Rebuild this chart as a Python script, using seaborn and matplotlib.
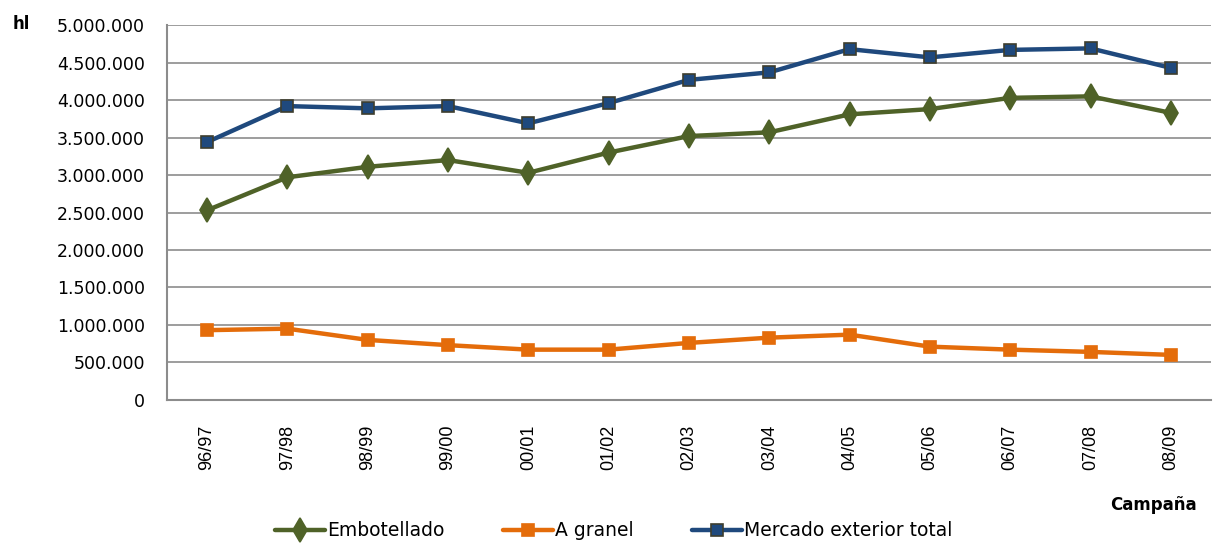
import matplotlib
matplotlib.use("Agg")
import matplotlib.pyplot as plt
import seaborn as sns
import pandas as pd
import numpy as np
from matplotlib.ticker import FuncFormatter, MultipleLocator

campaigns = ["96/97", "97/98", "98/99", "99/00", "00/01", "01/02", "02/03",
             "03/04", "04/05", "05/06", "06/07", "07/08", "08/09"]
embotellado = [2530000, 2970000, 3110000, 3200000, 3030000, 3300000, 3520000,
               3570000, 3810000, 3880000, 4030000, 4050000, 3830000]
a_granel = [930000, 950000, 800000, 730000, 670000, 670000, 760000,
            830000, 870000, 710000, 670000, 640000, 600000]
mercado_total = [3440000, 3920000, 3890000, 3920000, 3690000, 3960000, 4270000,
                 4370000, 4680000, 4570000, 4670000, 4690000, 4430000]
series_names = ["Embotellado", "A granel", "Mercado exterior total"]
colors = ["#4F6228", "#E46C0A", "#1F497D"]

sns.set_theme(style="white")
plt.rcParams['font.family'] = ['DejaVu Sans']
plt.rcParams['text.color'] = 'black'
plt.rcParams['xtick.color'] = 'black'
plt.rcParams['ytick.color'] = 'black'

fig = plt.figure(figsize=(12.15, 5.47), dpi=100)
ax = fig.add_axes([0.1374, 0.269, 0.8593, 0.685])

idx = np.arange(len(campaigns))
data = [embotellado, a_granel, mercado_total]
markers = ["d", "s", "s"]
msizes = [12, 8, 8.5]
edges = ["#4F6228", "#E46C0A", "#3D3D2E"]
handles = []
for name, vals, c, m, ms, ec in zip(series_names, data, colors, markers, msizes, edges):
    df = pd.DataFrame({"x": idx, "y": vals})
    sns.lineplot(data=df, x="x", y="y", ax=ax, color=c, linewidth=3.2,
                 marker=m, markersize=ms, markeredgecolor=ec, markeredgewidth=1.2,
                 label=name, legend=False)
    handles.append(ax.lines[-1])

ax.set_xlim(-0.5, len(campaigns) - 0.5)
ax.set_ylim(0, 5000000)
ax.yaxis.set_major_locator(MultipleLocator(500000))
ax.yaxis.set_major_formatter(FuncFormatter(lambda v, p: f"{int(v):,}".replace(",", ".")))
ax.set_xticks(idx)
ax.set_xticklabels(campaigns, rotation=90, fontsize=13, family="Liberation Sans")
ax.tick_params(axis="y", labelsize=12.5, length=0, pad=16)
ax.tick_params(axis="x", length=0, pad=18)
ax.grid(axis="y", color="#8C8C8C", linewidth=1.2)
ax.set_axisbelow(True)
for s in ["top", "right"]:
    ax.spines[s].set_visible(False)
for s in ["left", "bottom"]:
    ax.spines[s].set_color("#8C8C8C")
    ax.spines[s].set_linewidth(1.5)
ax.set_xlabel("")
ax.set_ylabel("")

fig.text(0.010, 0.957, "hl", fontsize=12, fontweight="bold", ha="left", va="center")
fig.text(0.985, 0.077, "Campaña", fontsize=12, fontweight="bold", ha="right", va="center")

fig.legend(handles=handles, labels=series_names, loc="center", ncol=3,
           bbox_to_anchor=(0.505, 0.03), frameon=False, fontsize=13.5,
           handlelength=2.7, columnspacing=3.1, handletextpad=0.1)

fig.savefig("out.png", dpi=100)
